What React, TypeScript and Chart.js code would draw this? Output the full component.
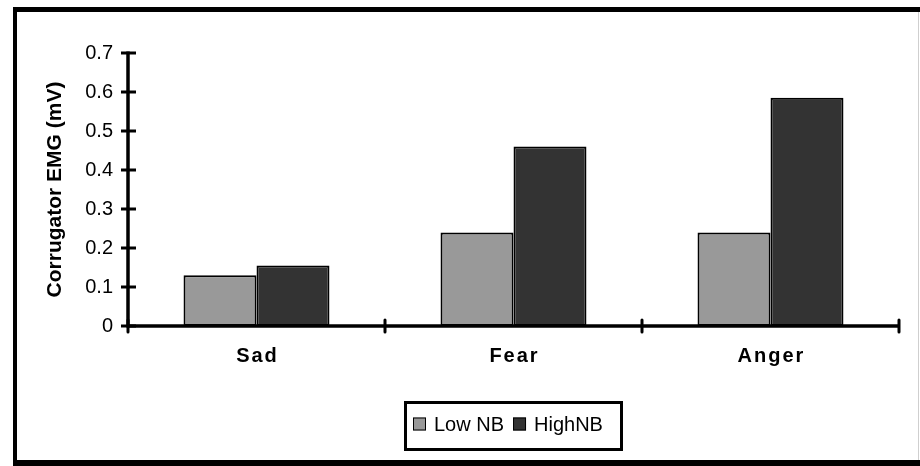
import { useEffect, useRef } from 'react';
import { Chart, registerables } from 'chart.js';

Chart.register(...registerables);

const FONT = "'Liberation Sans', Arial, Helvetica, sans-serif";

// Mean corrugator activity per emotion, split by need for belonging
const categories = ['Sad', 'Fear', 'Anger'];
const lowNB = [0.13, 0.24, 0.24];
const highNB = [0.155, 0.46, 0.585];
const seriesNames = ['Low NB', 'HighNB'];
const seriesColors = ['#999999', '#333333'];
const yMin = 0;
const yMax = 0.7;
const yStep = 0.1;
const yTitle = 'Corrugator EMG (mV)';

// White page with the heavy black frame around the chart
const framePlugin = {
  id: 'frame',
  beforeDraw(chart: any) {
    const { ctx, width, height } = chart;
    ctx.save();
    ctx.fillStyle = '#ffffff';
    ctx.fillRect(0, 0, width, height);
    ctx.fillStyle = '#000000';
    ctx.fillRect(13, 7, width - 13, 5);
    ctx.fillRect(13, 7, 4, height - 7);
    ctx.fillRect(13, height - 6, width - 13, 6);
    ctx.fillStyle = '#cfcfcf';
    ctx.fillRect(918, 12, 1, height - 18);
    ctx.restore();
  },
};

// Axis lines with tick marks crossing them, plus the spaced category labels
const axesPlugin = {
  id: 'crossAxes',
  afterDatasetsDraw(chart: any) {
    const { ctx, chartArea } = chart;
    const { left, right, bottom } = chartArea;
    const ys = chart.scales.y;
    const xs = chart.scales.x;
    ctx.save();
    ctx.strokeStyle = '#000000';
    ctx.fillStyle = '#000000';

    ctx.lineCap = 'butt';
    ctx.lineWidth = 3.5;
    ctx.beginPath();
    ctx.moveTo(left, ys.getPixelForValue(yMax) - 1.5);
    ctx.lineTo(left, ys.getPixelForValue(yMin) + 1.5);
    ctx.stroke();

    ctx.lineWidth = 3;
    const steps = Math.round((yMax - yMin) / yStep);
    for (let i = 0; i <= steps; i++) {
      const py = ys.getPixelForValue(yMin + i * yStep);
      ctx.beginPath();
      ctx.moveTo(left - 7, py);
      ctx.lineTo(left + 8, py);
      ctx.stroke();
    }

    ctx.lineWidth = 3.5;
    ctx.beginPath();
    ctx.moveTo(left, bottom);
    ctx.lineTo(right, bottom);
    ctx.stroke();

    ctx.lineCap = 'round';
    ctx.lineWidth = 3;
    const n = categories.length;
    const half = (xs.getPixelForValue(1) - xs.getPixelForValue(0)) / 2;
    for (let i = 0; i <= n; i++) {
      const px = i < n ? xs.getPixelForValue(i) - half : xs.getPixelForValue(n - 1) + half;
      ctx.beginPath();
      ctx.moveTo(px, bottom - 6);
      ctx.lineTo(px, bottom + 6);
      ctx.stroke();
    }

    ctx.font = `bold 20px ${FONT}`;
    (ctx as any).letterSpacing = '2px';
    ctx.textAlign = 'center';
    ctx.textBaseline = 'alphabetic';
    categories.forEach((c, i) => {
      ctx.fillText(c, xs.getPixelForValue(i) + 1, bottom + 36);
    });
    (ctx as any).letterSpacing = '0px';
    ctx.restore();
  },
};

// Boxed legend centred under the plot area
const legendBoxPlugin = {
  id: 'legendBox',
  afterDraw(chart: any) {
    const { ctx, chartArea } = chart;
    const center = (chartArea.left + chartArea.right) / 2;
    const boxW = 219;
    const boxH = 50;
    const boxLeft = center - boxW / 2;
    const boxTop = chartArea.bottom + 75;
    ctx.save();
    ctx.lineWidth = 3;
    ctx.strokeStyle = '#000000';
    ctx.strokeRect(boxLeft + 1.5, boxTop + 1.5, boxW - 3, boxH - 3);

    ctx.font = `20px ${FONT}`;
    ctx.textAlign = 'left';
    ctx.textBaseline = 'middle';
    const midY = boxTop + 23;
    let x = boxLeft + 9;
    chart.data.datasets.forEach((ds: any) => {
      ctx.fillStyle = ds.backgroundColor;
      ctx.fillRect(x, midY - 6.5, 13, 13);
      ctx.lineWidth = 1;
      ctx.strokeStyle = '#000000';
      ctx.strokeRect(x + 0.5, midY - 6, 12, 12);
      ctx.fillStyle = '#000000';
      ctx.fillText(ds.label, x + 21, midY + 1);
      x += 21 + ctx.measureText(ds.label).width + 9;
    });
    ctx.restore();
  },
};

export default function App() {
  const canvasRef = useRef<HTMLCanvasElement | null>(null);

  useEffect(() => {
    document.body.style.margin = '0';
    const canvas = canvasRef.current;
    if (!canvas) return;
    const chart = new Chart(canvas, {
      type: 'bar',
      data: {
        labels: categories,
        datasets: [
          {
            label: seriesNames[0],
            data: lowNB,
            backgroundColor: seriesColors[0],
            borderColor: '#000000',
            borderWidth: 2,
            borderSkipped: false,
            barPercentage: 1,
            categoryPercentage: 0.568,
          },
          {
            label: seriesNames[1],
            data: highNB,
            backgroundColor: seriesColors[1],
            borderColor: '#000000',
            borderWidth: 2,
            borderSkipped: false,
            barPercentage: 1,
            categoryPercentage: 0.568,
          },
        ],
      },
      options: {
        responsive: false,
        animation: false,
        devicePixelRatio: 1,
        layout: { padding: { top: 53, right: 21, bottom: 100, left: 0 } },
        plugins: {
          legend: { display: false },
          tooltip: { enabled: false },
        },
        scales: {
          x: {
            grid: { display: false, drawTicks: false },
            border: { display: false },
            ticks: { display: false },
            afterFit: (scale: any) => {
              scale.height = 40;
            },
          },
          y: {
            min: yMin,
            max: yMax,
            grid: { display: false, drawTicks: false },
            border: { display: false },
            ticks: {
              stepSize: yStep,
              color: '#000000',
              padding: 15,
              font: { family: FONT, size: 20 },
              callback: (v: any) => (Number(v) === 0 ? '0' : Number(v).toFixed(1)),
            },
            title: {
              display: true,
              text: yTitle,
              color: '#000000',
              font: { family: FONT, size: 21, weight: 'bold' },
              padding: { top: 43, bottom: 0 },
            },
            afterFit: (scale: any) => {
              scale.width = 128;
            },
          },
        },
      },
      plugins: [framePlugin, axesPlugin, legendBoxPlugin],
    } as any);
    return () => chart.destroy();
  }, []);

  return (
    <div style={{ width: 920, height: 466 }}>
      <canvas ref={canvasRef} width={920} height={466} />
    </div>
  );
}
